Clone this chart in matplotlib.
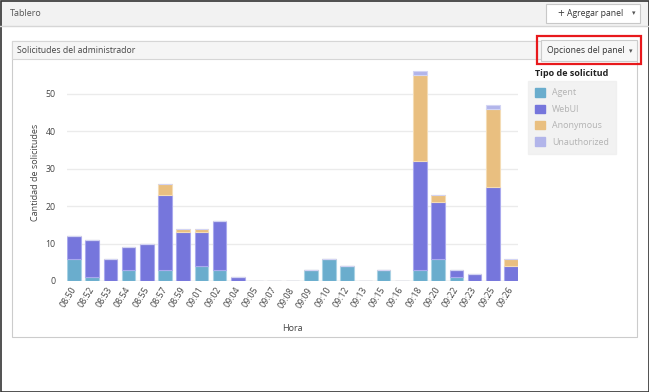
import numpy as np
import matplotlib
matplotlib.use('Agg')
import matplotlib.pyplot as plt
from matplotlib.patches import Rectangle, Patch

plt.rcParams['font.family'] = ['Open Sans', 'DejaVu Sans']

# data
horas = ['08:50', '08:52', '08:53', '08:54', '08:55', '08:57', '08:59', '09:01',
         '09:02', '09:04', '09:05', '09:07', '09:08', '09:09', '09:10', '09:12',
         '09:13', '09:15', '09:16', '09:18', '09:20', '09:22', '09:23', '09:25', '09:26']
agent        = [6, 1, 0, 3, 0, 3, 0, 4, 3, 0, 0, 0, 0, 3, 6, 4, 0, 3, 0, 3, 6, 1, 0, 0, 0]
webui        = [6, 10, 6, 6, 10, 20, 13, 9, 13, 1, 0, 0, 0, 0, 0, 0, 0, 0, 0, 29, 15, 2, 2, 25, 4]
anonymous    = [0, 0, 0, 0, 0, 3, 1, 1, 0, 0, 0, 0, 0, 0, 0, 0, 0, 0, 0, 23, 2, 0, 0, 21, 2]
unauthorized = [0, 0, 0, 0, 0, 0, 0, 0, 0, 0, 0, 0, 0, 0, 0, 0, 0, 0, 0, 1, 0, 0, 0, 1, 0]

series = ['Agent', 'WebUI', 'Anonymous', 'Unauthorized']
colors = ['#6aadcd', '#7676dc', '#e9bf80', '#b2b5ea']
edges = ['#a9d2e4', '#a9a9ee', '#f4dcb5', '#d2d4f4']

W, H = 649, 392
fig = plt.figure(figsize=(W / 100, H / 100), dpi=100)
fig.patch.set_facecolor('white')

# page chrome drawn in pixel coords
bg = fig.add_axes([0, 0, 1, 1])
bg.set_xlim(0, W)
bg.set_ylim(H, 0)
bg.axis('off')

def box(x, y, w, h, fc, ec, lw=1.0):
    bg.add_patch(Rectangle((x, y), w, h, facecolor=fc, edgecolor=ec, linewidth=lw))

box(0, 0, W, 26, '#f2f2f2', 'none')
bg.plot([0, W], [26, 26], color='#d6d6d6', lw=1)
bg.text(10, 13.5, 'Tablero', fontsize=6.5, color='#555555', va='center')
box(546, 4, 94, 19, 'white', '#c8c8c8', 0.8)
bg.text(561, 13, '+', fontsize=8.5, color='#444444', va='center', ha='center')
bg.text(567, 13.5, 'Agregar panel', fontsize=6.2, color='#333333', va='center')
bg.text(634, 14, '\u25be', fontsize=5, color='#555555', va='center', ha='center')

# panel
box(12, 41, 625, 296, 'white', '#cccccc', 0.8)
box(12, 41, 625, 18, '#f5f5f5', '#d6d6d6', 0.8)
bg.text(17, 50.5, 'Solicitudes del administrador', fontsize=6.2, color='#444444', va='center')
box(541, 40, 96, 21, '#f7f7f7', '#cccccc', 0.8)
bg.text(547, 50.5, 'Opciones del panel', fontsize=6.2, color='#333333', va='center')
bg.text(631, 51.5, '\u25be', fontsize=5, color='#555555', va='center', ha='center')
box(537, 35.5, 104, 28.5, 'none', '#e8191c', 1.6)
box(0.5, 0.5, W - 1, H - 1, 'none', '#333333', 1.2)

# chart
ax = fig.add_axes([66.7 / W, (H - 281) / H, (518.3 - 66.7) / W, (281 - 64) / H])
ax.patch.set_alpha(0)
x = np.arange(len(horas))
bottom = np.zeros(len(horas))
for name, vals, c, e in zip(series, [agent, webui, anonymous, unauthorized], colors, edges):
    vals = np.array(vals)
    ax.bar(x, vals, width=0.75, bottom=bottom, color=c, edgecolor=e, linewidth=0.8, zorder=3)
    bottom += vals

ax.set_xlim(-0.4, len(horas) - 0.6)
ax.set_ylim(0, 58)
ax.set_yticks([0, 10, 20, 30, 40, 50])
ax.grid(axis='y', color='#ebebeb', linewidth=1, zorder=0)
ax.axhline(0, color='#d9d9d9', lw=1, zorder=1)
for s in ax.spines.values():
    s.set_visible(False)
ax.tick_params(length=0, labelsize=6.3, labelcolor='#444444')
ax.tick_params(axis='y', pad=8)
ax.set_xticks(x)
ax.set_xticklabels(horas, rotation=58, ha='right', rotation_mode='anchor', va='center')
ax.tick_params(axis='x', pad=5)
ax.set_xlabel('Hora', fontsize=6.5, color='#444444', labelpad=10)
ax.set_ylabel('Cantidad de solicitudes', fontsize=6.5, color='#444444', labelpad=4)

# legend
fig.text(535 / W, 1 - 73 / H, 'Tipo de solicitud', fontsize=6.5, fontweight='bold',
         color='#222222', va='center')
handles = [Patch(facecolor=c, edgecolor=c) for c in colors]
leg = fig.legend(handles, series, loc='upper left', bbox_to_anchor=(528 / W, 1 - 81 / H),
                 fontsize=6.4, frameon=True, fancybox=False, handlelength=1.1,
                 handleheight=1.1, handletextpad=0.8, labelspacing=0.8,
                 borderpad=0.8, borderaxespad=0)
leg.get_frame().set_facecolor('#efefef')
leg.get_frame().set_edgecolor('#efefef')
for t in leg.get_texts():
    t.set_color('#b3b3b3')

fig.savefig('out.png', dpi=100)
